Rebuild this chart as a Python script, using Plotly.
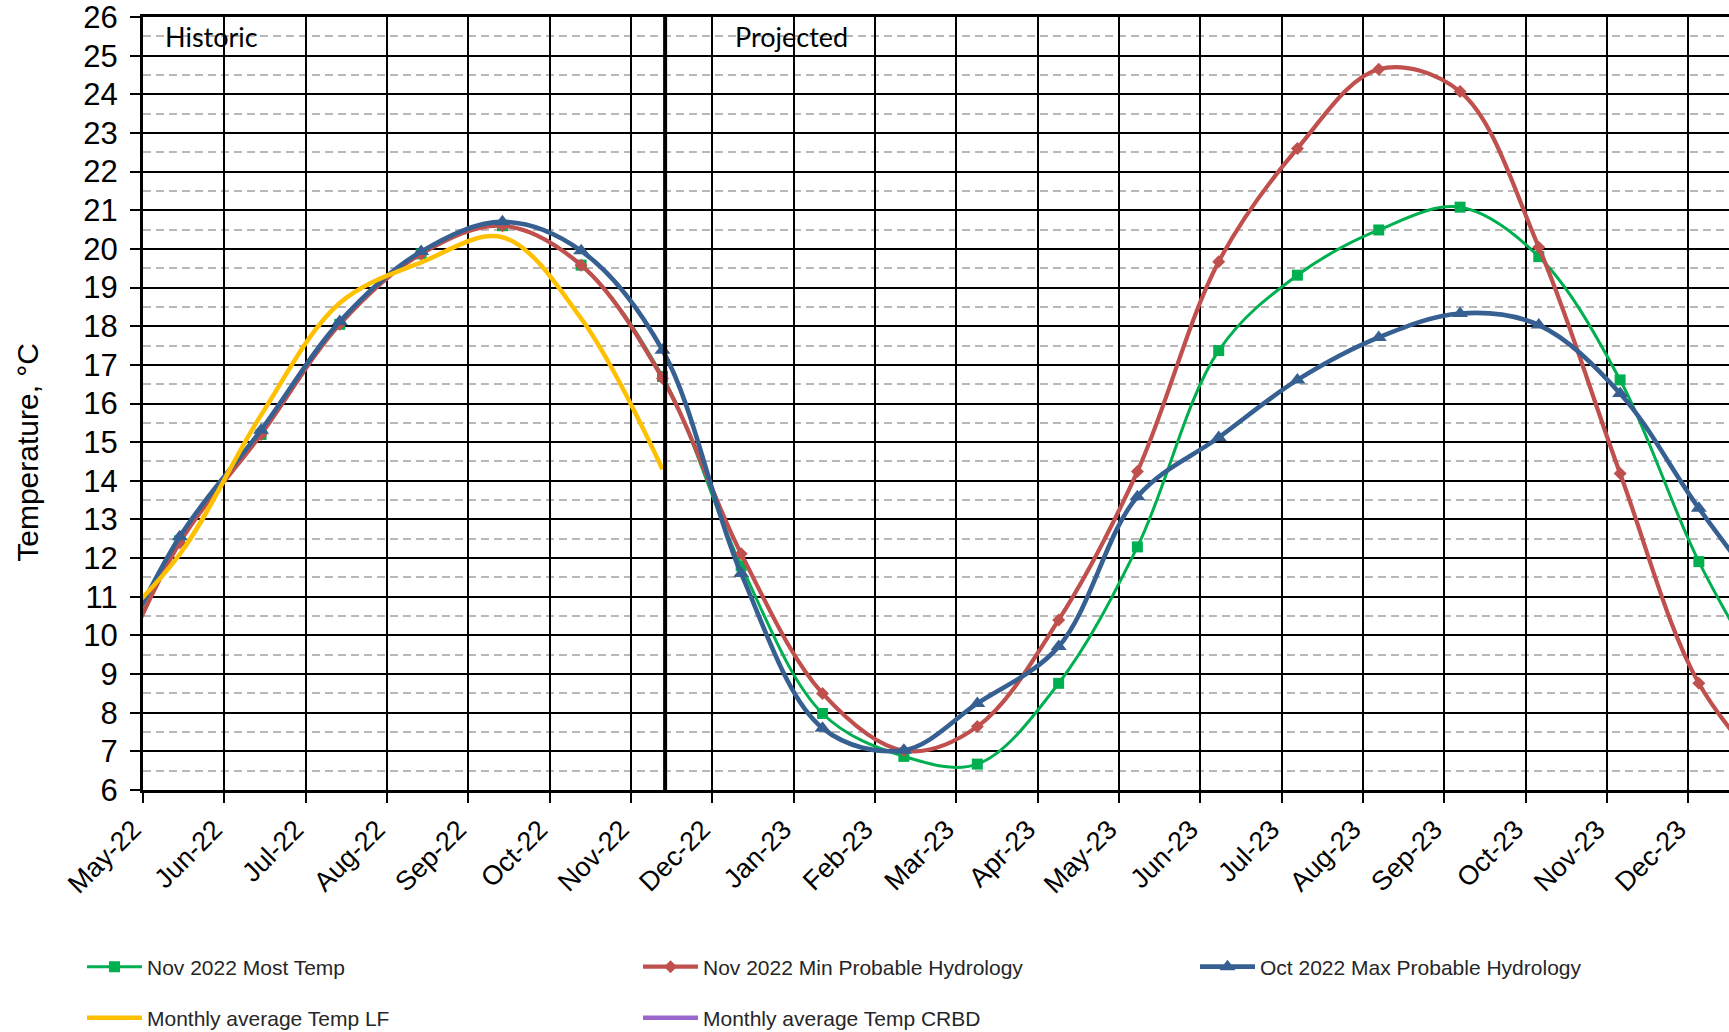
import plotly.graph_objects as go

# mid-month data dates (first and last fall outside the visible axis range)
dates = ["2022-04-15", "2022-05-15", "2022-06-15", "2022-07-15", "2022-08-15", "2022-09-15",
         "2022-10-15", "2022-11-15", "2022-12-15", "2023-01-15", "2023-02-15", "2023-03-15",
         "2023-04-15", "2023-05-15", "2023-06-15", "2023-07-15", "2023-08-15", "2023-09-15",
         "2023-10-15", "2023-11-15", "2023-12-15", "2024-01-15"]

most_temp = [8.1, 12.45, 15.2, 18.05, 19.87, 20.6, 19.58, 16.7, 11.8, 7.98, 6.87, 6.67,
             8.76, 12.29, 17.37, 19.32, 20.49, 21.08, 19.8, 16.61, 11.91, 8.2]
min_prob = [8.1, 12.4, 15.2, 18.05, 19.87, 20.6, 19.58, 16.65, 12.11, 8.5, 7.02, 7.64,
            10.4, 14.24, 19.67, 22.6, 24.65, 24.07, 20.04, 14.19, 8.76, 6.1]
max_prob = [8.6, 12.55, 15.31, 18.12, 19.93, 20.7, 19.95, 17.38, 11.6, 7.6, 7.03, 8.24,
            9.71, 13.59, 15.12, 16.61, 17.71, 18.33, 18.03, 16.26, 13.29, 10.5]
temp_lf = [9.9, 12.1, 15.7, 18.6, 19.65, 20.3, 18.2, 14.3] + [None] * 14
temp_crbd = [None] * 22

names = ["Nov 2022 Most Temp", "Nov 2022 Min Probable Hydrology",
         "Oct 2022 Max Probable Hydrology", "Monthly average Temp LF",
         "Monthly average Temp CRBD"]
colors = ["#00B050", "#C0504D", "#376092", "#FFC000", "#9966CC"]

x_start = "2022-05-01"
x_end = "2023-12-26 12:00"
tick_step_days = 31
divider_date = "2022-11-16"
y_min, y_max = 6, 26

FONT = "Arial, Liberation Sans, sans-serif"

fig = go.Figure()
fig.add_trace(go.Scatter(x=dates, y=most_temp, name=names[0], mode="lines+markers",
                         line=dict(color=colors[0], width=3, shape="spline"),
                         marker=dict(symbol="square", size=11, color=colors[0]), legend="legend"))
fig.add_trace(go.Scatter(x=dates, y=min_prob, name=names[1], mode="lines+markers",
                         line=dict(color=colors[1], width=4.2, shape="spline"),
                         marker=dict(symbol="diamond", size=10, color=colors[1]), legend="legend2"))
fig.add_trace(go.Scatter(x=dates, y=max_prob, name=names[2], mode="lines+markers",
                         line=dict(color=colors[2], width=4.6, shape="spline"),
                         marker=dict(symbol="triangle-up", size=14, color=colors[2]), legend="legend3"))
fig.add_trace(go.Scatter(x=dates, y=temp_lf, name=names[3], mode="lines",
                         line=dict(color=colors[3], width=4.5, shape="spline"), legend="legend4"))
fig.add_trace(go.Scatter(x=dates, y=temp_crbd, name=names[4], mode="lines",
                         line=dict(color=colors[4], width=4.5, shape="spline"), legend="legend5"))

fig.add_shape(type="line", xref="x", yref="paper", x0=divider_date, x1=divider_date,
              y0=0, y1=1, line=dict(color="black", width=4), layer="above")

fig.add_annotation(text="Historic", xref="paper", yref="y", x=0.0126, y=25.5,
                   xanchor="left", yanchor="middle", showarrow=False,
                   font=dict(family="Lato, Open Sans, sans-serif", size=27, color="black"))
fig.add_annotation(text="Projected", xref="paper", yref="y", x=0.3722, y=25.5,
                   xanchor="left", yanchor="middle", showarrow=False,
                   font=dict(family="Lato, Open Sans, sans-serif", size=27, color="black"))
# y-axis title (sits lower than the plot centre in the reference)
fig.add_annotation(text="Temperature, °C", xref="paper", yref="paper", x=-0.0728, y=0.437,
                   xanchor="center", yanchor="middle", showarrow=False, textangle=-90,
                   font=dict(family=FONT, size=30, color="black"))


def legend_box(xpx, ypx):
    return dict(orientation="h", xref="container", yref="container",
                x=xpx / 1729, y=1 - ypx / 1032, xanchor="left", yanchor="middle",
                itemwidth=55, font=dict(size=21, family=FONT, color="#262626"),
                bgcolor="rgba(0,0,0,0)")


fig.update_layout(
    width=1729, height=1032,
    margin=dict(l=143, r=0, t=17, b=242, autoexpand=False),
    plot_bgcolor="white", paper_bgcolor="white",
    font=dict(family=FONT, color="black"),
    xaxis=dict(type="date", range=[x_start, x_end], tick0=x_start, automargin=False,
               dtick=tick_step_days * 86400000, tickformat="%b-%y", tickangle=-45,
               tickfont=dict(size=27, family=FONT, color="black"), ticklabelshift=-10,
               ticks="outside", ticklen=10, tickwidth=1.5, tickcolor="black",
               showgrid=True, gridcolor="black", gridwidth=1.7, ticklabeloverflow="allow",
               showline=True, linecolor="black", linewidth=3, mirror=True, zeroline=False),
    yaxis=dict(range=[y_min, y_max], dtick=1, tick0=0, automargin=False,
               tickfont=dict(size=31, family=FONT, color="black"), ticklabelstandoff=6,
               ticks="outside", ticklen=10, tickwidth=1.5, tickcolor="black",
               ticklabeloverflow="allow",
               showgrid=True, gridcolor="black", gridwidth=1.7,
               showline=True, linecolor="black", linewidth=3, zeroline=False,
               minor=dict(tick0=6.5, dtick=1, showgrid=True, gridcolor="#B8B8B8",
                          gridwidth=2.2, griddash="8px,5px", ticks="")),
    legend=legend_box(82, 967),
    legend2=legend_box(638, 967),
    legend3=legend_box(1195, 967),
    legend4=legend_box(82, 1018),
    legend5=legend_box(638, 1018),
    showlegend=True,
)

fig.write_html("out.html", config={"displayModeBar": False},
               post_script="document.body.style.margin='0px';")
